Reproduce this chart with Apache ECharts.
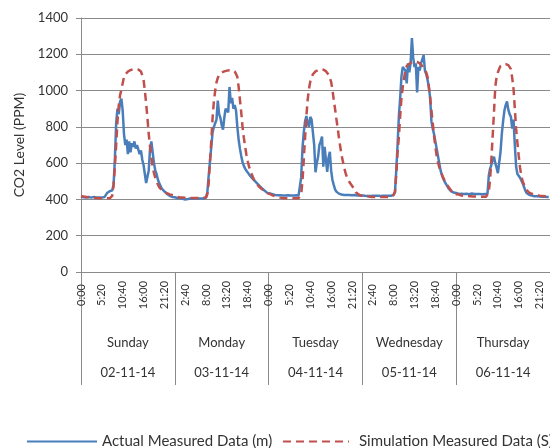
<!DOCTYPE html>
<html><head><meta charset="utf-8">
<script src="https://cdn.jsdelivr.net/npm/echarts@6/dist/echarts.min.js"></script>
<style>html,body{margin:0;padding:0;background:#fff;overflow:hidden}#c{width:580px;height:448px}</style>
</head><body><div id="c"></div>
<script>
const days = ['Sunday','Monday','Tuesday','Wednesday','Thursday'];
const dates = ['02-11-14','03-11-14','04-11-14','05-11-14','06-11-14'];
const yTicks = [0, 200, 400, 600, 800, 1000, 1200, 1400];
const stepMinutes = 20;      // sampling step of the series
const labelEvery = 16;       // a time label every 5:20

// Actual measured data (m), one value every 20 minutes, per day
const actualSun = [415,413,412,414,411,410,413,412,410,412,414,411,410,413,411,412,410,411,413,412,
  435,440,445,440,450,
  480,620,820,900,870,940,955,890,760,700,
  730,650,720,660,710,690,720,680,700,690,650,670,
  620,590,540,490,480,560,680,
  720,660,600,560,540,510,490,475,460,452,445,438,430,425,420,416,414,412];
const actualMon = [412,410,408,407,406,405,404,403,400,398,402,404,405,405,404,405,405,404,405,405,405,405,405,406,410,
  440,530,610,690,770,800,820,840,945,870,850,810,785,850,900,910,880,1020,930,960,900,920,890,800,730,680,640,605,
  585,570,558,548,538,528,520,512,505,498,490,482,475,468,461,455,448,442,436];
const actualTue = [436,433,431,429,427,425,424,423,422,423,421,422,424,422,421,423,422,422,424,421,422,423,422,422,430,
  520,680,770,830,860,820,800,855,840,770,700,550,600,635,700,720,746,580,690,620,552,630,663,560,507,480,455,443,
  436,432,429,427,426,425,425,424,424,425,424,423,423,424,423,422,422,421,421];
const actualWed = [422,421,420,420,419,420,419,420,420,419,420,420,420,420,419,420,420,420,420,420,420,420,420,420,425,
  440,560,700,860,960,1080,1130,1140,1110,1040,1150,1100,1150,1290,1180,1130,1150,990,1130,1110,1150,1140,1195,
  1110,1090,1060,1020,960,830,790,760,720,680,640,600,560,535,515,500,489,475,462,452,446,442,438,435];
const actualThu = [436,432,430,430,431,429,430,432,431,430,429,430,433,431,430,429,430,431,430,430,429,430,430,431,430,
  530,570,590,620,635,600,575,545,540,660,760,830,890,920,940,895,870,855,790,840,700,580,540,530,520,505,490,470,450,
  436,430,426,423,421,419,418,417,417,416,416,415,415,415,415,414,414,414];

// Simulation measured data (S)
const simSun = [418,417,416,415,414,413,412,411,410,410,409,408,408,407,407,406,406,406,406,406,406,406,406,
  408,420,480,580,700,830,920,975,1005,1040,1075,1090,1100,
  1105,1110,1113,1116,1118,1119,1119,1118,1116,1112,1105,1085,1060,
  1000,930,850,760,690,630,580,545,520,500,482,468,460,452,446,441,437,434,431,428,426,424,422];
const simMon = [420,416,414,412,411,410,410,410,409,409,408,408,408,408,408,408,408,408,408,408,408,408,408,410,
  412,430,490,610,720,850,940,1000,1045,1070,1085,1094,1100,1104,1106,1108,1110,1111,1112,1113,1113,1112,
  1105,1092,1075,1020,950,880,800,740,690,645,610,580,560,540,522,505,495,485,476,468,462,456,451,446,440,435];
const simTue = [436,430,426,422,419,417,415,413,411,410,409,408,408,407,407,407,406,406,406,406,406,406,406,407,410,
  430,500,620,740,860,950,1010,1050,1075,1090,1100,1106,1110,1112,1115,1117,1117,1115,1112,1107,1100,1088,1070,1048,
  1005,950,900,845,795,740,690,645,610,575,548,525,510,496,485,475,465,455,440,434,428,424,420];
const simWed = [428,425,422,420,418,416,415,414,414,414,414,414,414,414,414,414,414,414,414,414,414,414,414,414,416,
  440,540,660,745,860,960,1020,1070,1110,1135,1142,1148,1152,1156,1158,1160,1160,1158,1155,1150,1145,1135,1125,
  1112,1100,1075,1020,960,890,820,750,690,640,605,578,555,538,520,505,492,480,470,460,450,440,432,425];
const simThu = [434,430,427,424,421,420,419,418,418,417,417,418,417,416,416,416,415,415,415,415,415,415,415,415,415,
  440,510,620,750,880,1020,1075,1100,1120,1135,1141,1144,1146,1146,1145,1140,1132,1118,1070,1010,900,790,710,640,575,
  530,500,482,468,452,444,438,434,431,429,427,425,424,422,421,420,419,418,417,416,415,415];

const actual = [].concat(actualSun, actualMon, actualTue, actualWed, actualThu);
const sim = [].concat(simSun, simMon, simTue, simWed, simThu);

// time-of-day categories (one extra closing slot so days line up with the group axis)
const times = [];
for (let i = 0; i <= actual.length; i++) {
  const m = (i * stepMinutes) % 1440;
  times.push(Math.floor(m / 60) + ':' + String(m % 60).padStart(2, '0'));
}

const txt = '#333';
const grey = '#8a8a8a';
const font = 'Lato, "Open Sans", sans-serif';

const chart = echarts.init(document.getElementById('c'), null, {renderer: 'canvas'});
chart.setOption({
  animation: false,
  textStyle: {fontFamily: font},
  grid: {left: 81, top: 18, width: 469, height: 254},
  legend: [
    {data: ['Actual Measured Data (m)'], left: 21, top: 429, itemWidth: 70, itemHeight: 12,
     itemStyle: {opacity: 0}, textStyle: {fontSize: 15, color: txt, fontFamily: font}},
    {data: ['Simulation Measured Data (S)'], left: 277, top: 429, itemWidth: 66, itemHeight: 12, itemGap: 0,
     itemStyle: {opacity: 0}, textStyle: {fontSize: 15, color: txt, fontFamily: font, padding: [0, 0, 0, 5]}}
  ],
  xAxis: [
    {type: 'category', data: times, boundaryGap: false,
     axisLine: {lineStyle: {color: grey}}, axisTick: {show: false},
     axisLabel: {rotate: 90, align: 'center', fontSize: 11, color: txt, margin: 23, fontFamily: font,
       interval: (i) => i % labelEvery === 0 && i < actual.length}},
    {type: 'category', data: days, boundaryGap: true, position: 'bottom',
     axisLine: {show: false},
     axisTick: {show: true, interval: 0, length: 113, lineStyle: {color: grey}},
     axisLabel: {interval: 0, margin: 64, fontSize: 13, color: txt, fontFamily: font}},
    {type: 'category', data: dates, boundaryGap: true, position: 'bottom',
     axisLine: {show: false}, axisTick: {show: false},
     axisLabel: {interval: 0, margin: 94, fontSize: 13, color: txt, fontFamily: font}}
  ],
  yAxis: {type: 'value', min: yTicks[0], max: yTicks[yTicks.length - 1], interval: yTicks[1] - yTicks[0],
    name: 'CO2 Level (PPM)', nameLocation: 'middle', nameGap: 55,
    nameTextStyle: {fontSize: 14, color: txt, fontFamily: font},
    axisLine: {show: true, lineStyle: {color: grey}},
    axisTick: {show: true, length: 5, lineStyle: {color: grey}},
    axisLabel: {fontSize: 13, color: txt, margin: 13, fontFamily: font, formatter: (v) => String(v)},
    splitLine: {lineStyle: {color: grey}}},
  series: [
    {name: 'Actual Measured Data (m)', type: 'line', data: actual, symbol: 'none',
     color: '#4A7EBB', lineStyle: {width: 2.5, color: '#4A7EBB'}},
    {name: 'Simulation Measured Data (S)', type: 'line', data: sim, symbol: 'none',
     color: '#C0504D', lineStyle: {width: 2.5, color: '#C0504D', type: [8, 5]}}
  ]
});
</script></body></html>
